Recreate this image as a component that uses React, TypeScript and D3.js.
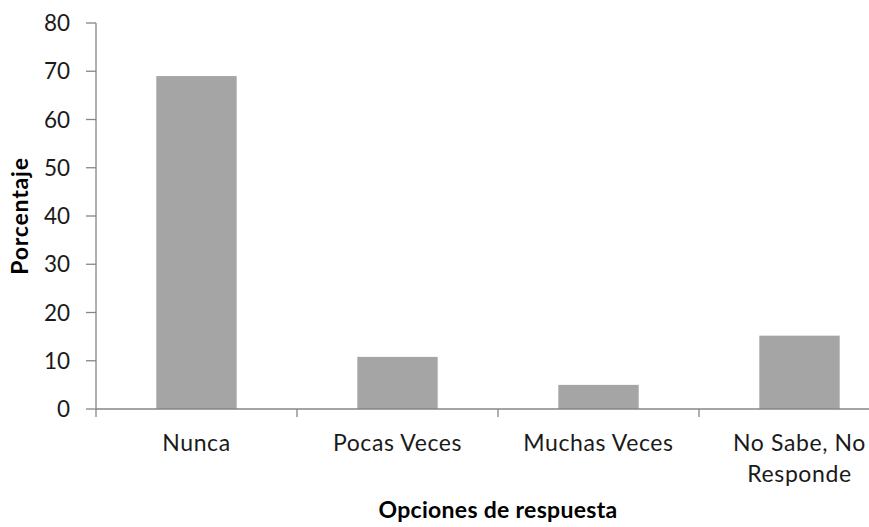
import React, { useEffect, useRef } from "react";
import * as d3 from "d3";

const categories: string[][] = [["Nunca"], ["Pocas Veces"], ["Muchas Veces"], ["No Sabe, No", "Responde"]];
const values: number[] = [69, 10.8, 5, 15.2];
const yTicks: number[] = [0, 10, 20, 30, 40, 50, 60, 70, 80];
const yTitle = "Porcentaje";
const xTitle = "Opciones de respuesta";

const W = 869;
const H = 527;
const FONT = "Lato, 'Open Sans', sans-serif";

export default function App() {
  const ref = useRef<SVGSVGElement>(null);
  useEffect(() => {
    const svg = d3.select(ref.current);
    svg.selectAll("*").remove();
    const left = 96, right = 900, top = 23, bottom = 409;
    const x = d3.scaleBand<number>().domain(d3.range(categories.length)).range([left, right]).paddingInner(0).paddingOuter(0);
    const y = d3.scaleLinear().domain([0, 80]).range([bottom, top]);
    const axisColor = "#868686";

    // bars
    const bw = x.bandwidth() * 0.4;
    svg.append("g").selectAll("rect").data(values).join("rect")
      .attr("x", (_d, i) => x(i)! + x.bandwidth() / 2 - bw / 2)
      .attr("width", bw)
      .attr("y", (d) => y(d))
      .attr("height", (d) => y(0) - y(d))
      .attr("fill", "#A5A5A5");

    // y axis
    svg.append("line").attr("x1", left).attr("x2", left).attr("y1", top).attr("y2", bottom)
      .attr("stroke", axisColor).attr("stroke-width", 1.3);
    const yt = svg.append("g");
    yt.selectAll("line").data(yTicks).join("line")
      .attr("x1", left - 10).attr("x2", left)
      .attr("y1", (d) => y(d)).attr("y2", (d) => y(d))
      .attr("stroke", axisColor).attr("stroke-width", 1.3);
    yt.selectAll("text").data(yTicks).join("text")
      .attr("x", 70).attr("y", (d) => y(d)).attr("dy", "0.36em")
      .attr("text-anchor", "end").attr("font-family", FONT).attr("font-size", 22.5).attr("fill", "#1a1a1a")
      .text((d) => String(d));

    // x axis
    svg.append("line").attr("x1", left).attr("x2", right).attr("y1", bottom).attr("y2", bottom)
      .attr("stroke", axisColor).attr("stroke-width", 1.3);
    const bounds = d3.range(categories.length + 1).map((i) => (i < categories.length ? x(i)! : right));
    svg.append("g").selectAll("line").data(bounds).join("line")
      .attr("x1", (d) => d).attr("x2", (d) => d).attr("y1", bottom).attr("y2", bottom + 8)
      .attr("stroke", axisColor).attr("stroke-width", 1.3);

    const xl = svg.append("g");
    categories.forEach((lines, i) => {
      const t = xl.append("text").attr("text-anchor", "middle").attr("font-family", FONT)
        .attr("font-size", 23).attr("letter-spacing", 0.6).attr("fill", "#1a1a1a");
      lines.forEach((ln, j) => {
        t.append("tspan").attr("x", x(i)! + x.bandwidth() / 2).attr("y", 451 + j * 31).text(ln);
      });
    });

    // titles
    svg.append("text").attr("x", (left + right) / 2).attr("y", 518).attr("text-anchor", "middle")
      .attr("font-family", FONT).attr("font-weight", "bold").attr("font-size", 23).attr("letter-spacing", 0.3).attr("fill", "#000")
      .text(xTitle);
    svg.append("text").attr("transform", `translate(28,${(top + bottom) / 2}) rotate(-90)`)
      .attr("text-anchor", "middle").attr("font-family", FONT).attr("font-weight", "bold")
      .attr("font-size", 23).attr("letter-spacing", 0.8).attr("fill", "#000").text(yTitle);
  }, []);
  return (
    <svg ref={ref} width={W} height={H} style={{ position: "absolute", left: 0, top: 0, background: "#fff" }} />
  );
}
